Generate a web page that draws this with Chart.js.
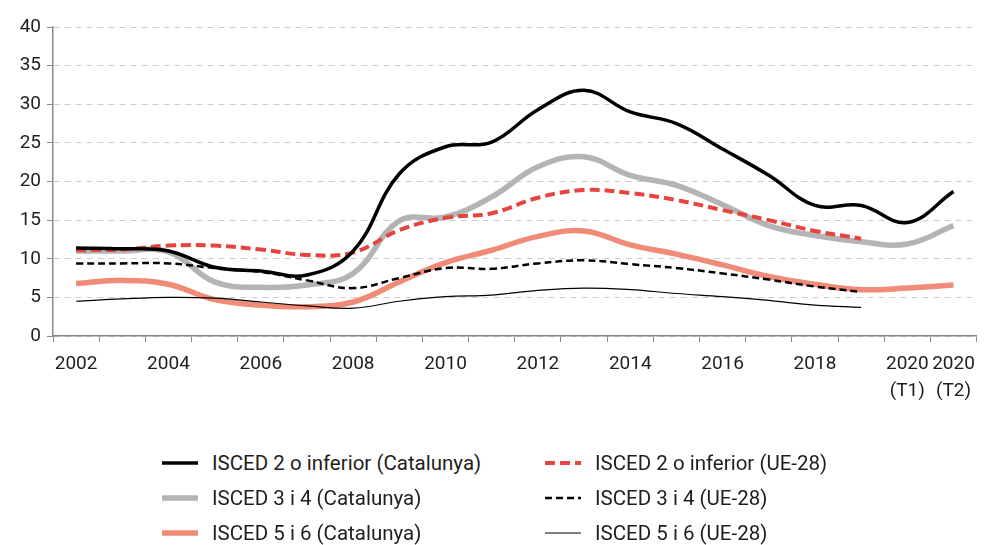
<!DOCTYPE html>
<html>
<head>
<meta charset="utf-8">
<script src="https://cdn.jsdelivr.net/npm/chart.js@4.4.0/dist/chart.umd.min.js"></script>
<style>
    body { margin: 0; background: #fff; font-family: Roboto, 'Noto Sans', sans-serif; }
    #contenidor { position: relative; width: 984px; height: 545px; }
    #grafica { position: absolute; left: 0; top: 0; }
    #llegenda {
        position: absolute; left: 162px; top: 445px;
        display: grid; grid-template-columns: 383px 340px;
    }
    .item { display: flex; align-items: center; height: 35px; font-size: 20.5px; color: #1e1e1e; white-space: nowrap; }
    .item canvas { margin-right: 14px; }
</style>
</head>
<body>
<div id="contenidor">
    <canvas id="grafica" width="984" height="420"></canvas>
    <div id="llegenda"></div>
</div>
<script>
// Anys (eix X)
const anys = ['2002', '2003', '2004', '2005', '2006', '2007', '2008', '2009', '2010', '2011',
    '2012', '2013', '2014', '2015', '2016', '2017', '2018', '2019', ['2020', '(T1)'], ['2020', '(T2)']];

// Sèries (%)
const isced2Cat = [11.4, 11.3, 11.0, 8.9, 8.4, 7.9, 11.0, 21.0, 24.5, 25.1, 29.3, 31.8, 29.0, 27.5, 24.2, 20.8, 16.9, 16.9, 14.7, 18.7];
const isced2Ue = [11.1, 11.2, 11.7, 11.7, 11.2, 10.5, 10.8, 13.7, 15.3, 15.9, 17.9, 18.9, 18.5, 17.6, 16.3, 15.0, 13.6, 12.6, null, null];
const isced34Cat = [11.0, 11.0, 10.9, 7.0, 6.3, 6.6, 8.1, 14.9, 15.4, 18.0, 21.9, 23.2, 20.8, 19.5, 17.0, 14.3, 13.0, 12.2, 11.9, 14.3];
const isced34Ue = [9.4, 9.4, 9.4, 8.8, 8.3, 7.2, 6.2, 7.5, 8.8, 8.7, 9.4, 9.8, 9.3, 8.8, 8.1, 7.3, 6.4, 5.7, null, null];
const isced56Cat = [6.8, 7.2, 6.7, 4.7, 4.0, 3.8, 4.4, 7.0, 9.5, 11.1, 12.9, 13.6, 11.8, 10.6, 9.2, 7.7, 6.7, 6.0, 6.2, 6.6];
const isced56Ue = [4.5, 4.8, 5.0, 4.9, 4.4, 3.9, 3.6, 4.5, 5.1, 5.3, 5.9, 6.2, 6.0, 5.5, 5.1, 4.6, 4.0, 3.7, null, null];

// Colors
const COLORS = {
    negre: '#000000',
    vermell: '#e8443e',
    gris: '#b4b4b4',
    salmo: '#ef8b76',
    eix: '#8a8a8a',
    graella: '#cccccc',
    text: '#1e1e1e'
};

function serie(etiqueta, dades, color, gruix, guions, ordre) {
    return {
        label: etiqueta,
        data: dades,
        borderColor: color,
        backgroundColor: color,
        borderWidth: gruix,
        borderDash: guions,
        borderCapStyle: 'butt',
        tension: 0.4,
        pointRadius: 0,
        pointHoverRadius: 0,
        fill: false,
        order: ordre
    };
}

const datasets = [
    serie('ISCED 2 o inferior (Catalunya)', isced2Cat, COLORS.negre, 3.5, [], 0),
    serie('ISCED 2 o inferior (UE-28)', isced2Ue, COLORS.vermell, 4, [10, 5], 2),
    serie('ISCED 3 i 4 (Catalunya)', isced34Cat, COLORS.gris, 5.5, [], 3),
    serie('ISCED 3 i 4 (UE-28)', isced34Ue, COLORS.negre, 2.5, [7, 4], 1),
    serie('ISCED 5 i 6 (Catalunya)', isced56Cat, COLORS.salmo, 5.5, [], 3),
    serie('ISCED 5 i 6 (UE-28)', isced56Ue, COLORS.negre, 1.2, [], 1)
];

const grafica = new Chart(document.getElementById('grafica'), {
    type: 'line',
    data: { labels: anys, datasets: datasets },
    options: {
        responsive: false,
        animation: false,
        layout: { padding: { top: 27, right: 6, left: 0, bottom: 0 } },
        plugins: { legend: { display: false }, tooltip: { enabled: false } },
        scales: {
            x: {
                type: 'category',
                offset: true,
                afterFit: function (escala) { escala.height = 84; },
                grid: {
                    offset: true,
                    drawOnChartArea: false,
                    drawTicks: true,
                    tickLength: 6,
                    tickColor: COLORS.eix,
                    tickWidth: 1
                },
                border: { color: COLORS.eix, width: 1.5 },
                ticks: {
                    autoSkip: false,
                    maxRotation: 0,
                    padding: 9,
                    color: COLORS.text,
                    font: { family: 'Roboto', size: 19, lineHeight: 1.42 },
                    callback: function (valor, index) {
                        return (index % 2 === 0 || index === anys.length - 1) ? this.getLabelForValue(valor) : '';
                    }
                }
            },
            y: {
                min: 0,
                max: 40,
                afterFit: function (escala) { escala.width = 53; },
                grid: {
                    color: COLORS.graella,
                    lineWidth: 1,
                    drawTicks: true,
                    tickLength: 6,
                    tickColor: COLORS.eix
                },
                border: { color: COLORS.eix, width: 1.5, dash: [6, 5] },
                ticks: {
                    stepSize: 5,
                    padding: 6,
                    color: COLORS.text,
                    font: { family: 'Roboto', size: 19 }
                }
            }
        }
    }
});

// Llegenda en dues columnes
const llegenda = document.getElementById('llegenda');
grafica.data.datasets.forEach(function (ds) {
    const item = document.createElement('div');
    item.className = 'item';
    const mostra = document.createElement('canvas');
    mostra.width = 36;
    mostra.height = 12;
    const ctx = mostra.getContext('2d');
    ctx.strokeStyle = ds.borderColor;
    ctx.lineWidth = ds.borderWidth;
    ctx.setLineDash(ds.borderDash);
    ctx.beginPath();
    ctx.moveTo(0, 6);
    ctx.lineTo(36, 6);
    ctx.stroke();
    item.appendChild(mostra);
    const text = document.createElement('span');
    text.textContent = ds.label;
    item.appendChild(text);
    llegenda.appendChild(item);
});
</script>
</body>
</html>
